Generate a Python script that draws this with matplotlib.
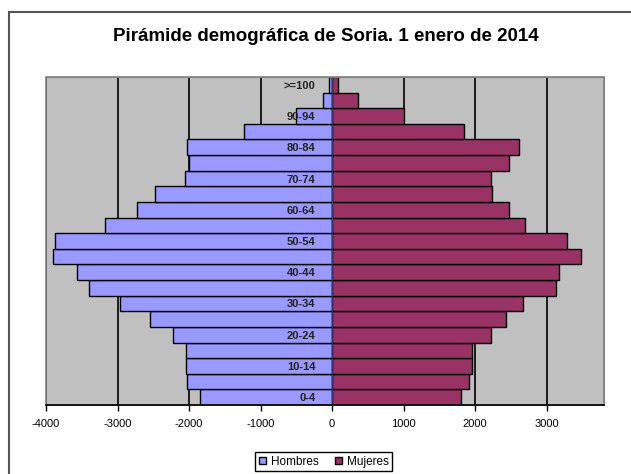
import matplotlib.pyplot as plt
from matplotlib.patches import Rectangle
from matplotlib.ticker import MultipleLocator
import numpy as np

# grupos de edad, de abajo a arriba
grupos = ['0-4', '5-9', '10-14', '15-19', '20-24', '25-29', '30-34', '35-39',
          '40-44', '45-49', '50-54', '55-59', '60-64', '65-69', '70-74',
          '75-79', '80-84', '85-89', '90-94', '95-99', '>=100']
hombres = [1846, 2023, 2042, 2042, 2218, 2549, 2963, 3396, 3573, 3899, 3876,
           3177, 2721, 2479, 2060, 1995, 2023, 1232, 510, 130, 45]
mujeres = [1795, 1911, 1953, 1953, 2214, 2427, 2670, 3135, 3173, 3480, 3285,
           2689, 2469, 2237, 2214, 2469, 2609, 1841, 1003, 360, 85]
titulo = 'Pirámide demográfica de Soria. 1 enero de 2014'

plt.rcParams['font.family'] = ['Liberation Sans', 'DejaVu Sans']
plt.rcParams['axes.unicode_minus'] = False

fig = plt.figure(figsize=(6.31, 4.74), dpi=100)
ax = fig.add_axes([46 / 631, 1 - 405 / 474, (604 - 46) / 631, (405 - 77) / 474])
ax.set_facecolor('#C0C0C0')

y = np.arange(len(grupos))
ax.barh(y, -np.array(hombres), height=1.0, color='#9999FF', edgecolor='black',
        linewidth=1, label='Hombres', zorder=2)
ax.barh(y, mujeres, height=1.0, color='#993366', edgecolor='black',
        linewidth=1, label='Mujeres', zorder=2)

ax.set_xlim(-4000, 3800)
ax.set_ylim(-0.5, len(grupos) - 0.5)
ax.xaxis.set_major_locator(MultipleLocator(1000))
ax.grid(axis='x', color='black', linewidth=1.2)
ax.xaxis.set_zorder(0.5)   # lineas de division detras de las barras
ax.yaxis.set_zorder(5)     # etiquetas de edad encima de las barras

# eje de categorias en el cero, etiquetas alternas
ax.spines['left'].set_position(('data', 0))
ax.spines['left'].set_color('#333366')
ax.spines['left'].set_zorder(3)
ax.set_yticks(y[::2])
ax.set_yticklabels(grupos[::2], fontsize=8, fontweight='bold', color='#222222')
ax.tick_params(axis='y', length=0, pad=12)

for s in ['top', 'right']:
    ax.spines[s].set_color('#808080')
ax.spines['bottom'].set_color('black')
ax.spines['bottom'].set_linewidth(1.2)
ax.spines['bottom'].set_zorder(4.5)
ax.tick_params(axis='x', labelsize=8, direction='out', length=4, width=1,
               pad=6)
ax.add_patch(Rectangle((0, 0), 1, 1, transform=ax.transAxes, fill=False,
                       edgecolor='#808080', linewidth=1.2, zorder=4,
                       clip_on=False))

fig.text(0.516, 0.922, titulo, ha='center', va='center', fontsize=13.5,
         fontweight='bold')

fig.legend(loc='center', bbox_to_anchor=(0.513, 0.026), ncol=2, fontsize=8.5,
           frameon=True, fancybox=False, edgecolor='black', handlelength=0.6,
           handleheight=0.6, handletextpad=0.4, columnspacing=1.4,
           borderpad=0.3, borderaxespad=0.2, framealpha=1)

# marco del grafico
fig.patches.append(Rectangle((9 / 631, -0.1), 1.2, 1 - 12 / 474 + 0.1,
                             transform=fig.transFigure, fill=False,
                             edgecolor='#555555', linewidth=1.5))

fig.savefig('out.png', dpi=100)
